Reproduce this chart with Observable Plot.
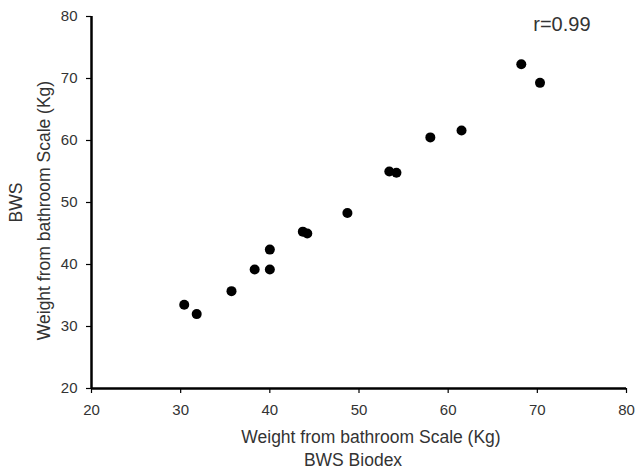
<!DOCTYPE html>
<html><head><meta charset="utf-8">
<script src="https://cdn.jsdelivr.net/npm/d3@7"></script>
<script src="https://cdn.jsdelivr.net/npm/@observablehq/plot@0.6"></script>
<style>body{margin:0;background:#fff;} svg{display:block;}</style>
</head><body><div id="chart"></div>
<script>
const biodex = [30.4, 31.8, 35.7, 38.3, 40.0, 40.0, 43.7, 44.2, 48.7, 53.4, 54.2, 58.0, 61.5, 68.2, 70.3];
const bathroom = [33.5, 32.0, 35.7, 39.2, 39.2, 42.4, 45.3, 45.0, 48.3, 55.0, 54.8, 60.5, 61.6, 72.3, 69.3];
const ticks = [20, 30, 40, 50, 60, 70, 80];
const xLabel = "Weight from bathroom Scale (Kg)";
const xLabel2 = "BWS Biodex";
const yLabel = "Weight from bathroom Scale (Kg)";
const yLabel2 = "BWS";
const annotation = "r=0.99";

const data = biodex.map((x, i) => ({x, y: bathroom[i]}));
const font = "Liberation Sans, Arial, sans-serif";

const chart = Plot.plot({
  width: 635, height: 472,
  marginLeft: 91, marginRight: 9, marginTop: 16, marginBottom: 84,
  style: {fontFamily: font, fontSize: "15px", color: "#333", background: "#fff"},
  x: {domain: [20, 80], ticks: ticks, label: null},
  y: {domain: [20, 80], ticks: ticks, label: null},
  marks: [
    Plot.axisX({ticks, tickSize: 5, tickPadding: 11, fontSize: 15, fill: "#333", stroke: "#000", strokeWidth: 1.2}),
    Plot.axisY({ticks, tickSize: 5, tickPadding: 9, fontSize: 15, fill: "#333", stroke: "#000", strokeWidth: 1.2}),
    Plot.ruleX([20], {stroke: "#000", strokeWidth: 2.5}),
    Plot.ruleY([20], {stroke: "#000", strokeWidth: 2.5}),
    Plot.dot(data, {x: "x", y: "y", r: 5, fill: "#000", stroke: null}),
    Plot.text([annotation], {frameAnchor: "top-right", text: d => d, dx: -36, dy: 0, lineAnchor: "top", textAnchor: "end", fontSize: 20, fill: "#333"}),
    Plot.text([xLabel], {frameAnchor: "bottom", text: d => d, dx: 12, dy: 49, fontSize: 17.5, fill: "#333", lineAnchor: "middle", textAnchor: "middle"}),
    Plot.text([xLabel2], {frameAnchor: "bottom", text: d => d, dx: -6, dy: 72, fontSize: 17.5, fill: "#333", lineAnchor: "middle", textAnchor: "middle"}),
    Plot.text([yLabel], {frameAnchor: "left", text: d => d, rotate: -90, dx: -47, dy: 8, fontSize: 17.5, fill: "#333", lineAnchor: "middle", textAnchor: "middle"}),
    Plot.text([yLabel2], {frameAnchor: "left", text: d => d, rotate: -90, dx: -75, dy: 0, fontSize: 17.5, fill: "#333", lineAnchor: "middle", textAnchor: "middle"})
  ]
});
document.getElementById("chart").appendChild(chart);
</script>
</body></html>
